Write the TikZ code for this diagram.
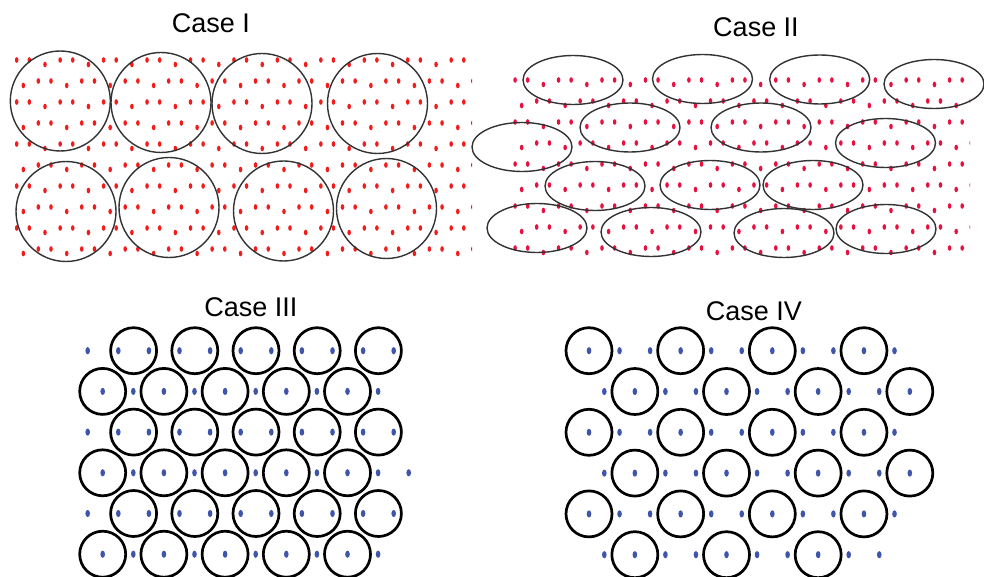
\documentclass[tikz,border=0pt]{standalone}
\usepackage{fontspec}
\setmainfont{Liberation Sans}
\usetikzlibrary{positioning}
\definecolor{Dot_Red}{HTML}{F21C1C}
\definecolor{Dot_Crimson}{HTML}{E8103F}
\definecolor{Dot_Blue}{HTML}{3F55AA}
\definecolor{Rim_Gray}{HTML}{333333}

\tikzset{
  casetitle/.style={font=\fontsize{27}{30}\selectfont, anchor=base},
  rim/.style={Rim_Gray, line width=1.4pt},
  ring/.style={black, line width=2.7pt},
}

\begin{document}
\begin{tikzpicture}[x=1pt, y=-1pt]
    \useasboundingbox (0,0) rectangle (984,577);

    % === Case I: red lattice, eight big circles ===
    \node[casetitle] (titleI) at (211,33) {Case I};
    \begin{scope}
        \clip (8,50) rectangle (472,262);
        \foreach \k in {0,...,4} {
            \foreach \m in {0,...,11} {
                \fill[Dot_Red] ({16.7+43.45*\m},{60+42*\k}) ellipse (1.8 and 2.8);
                \fill[Dot_Red] ({29.3+43.45*\m},{60+42*\k}) ellipse (1.8 and 2.8);
                \fill[Dot_Red] ({45+43.45*\m},{64.5+42*\k}) ellipse (1.8 and 2.8);
                \fill[Dot_Red] ({23.3+43.45*\m},{85.5+42*\k}) ellipse (1.8 and 2.8);
                \fill[Dot_Red] ({38.3+43.45*\m},{81+42*\k}) ellipse (1.8 and 2.8);
                \fill[Dot_Red] ({51+43.45*\m},{81+42*\k}) ellipse (1.8 and 2.8);
            }
        }
    \end{scope}
    \foreach \cx/\cy in {60.3/101, 161/102.5, 262/103.5, 377.5/103.5,
                         66/211.5, 169/207.5, 283.5/211, 386.5/208.5}
        \draw[rim] (\cx,\cy) circle (50);

    % === Case II: same lattice, fifteen ellipses ===
    \node[casetitle] (titleII) at (756,36.7) {Case II};
    \begin{scope}
        \clip (508,50) rectangle (970,256);
        \begin{scope}[shift={(498.4,20)}]
            \foreach \k in {0,...,4} {
                \foreach \m in {0,...,11} {
                    \fill[Dot_Crimson] ({16.7+43.45*\m},{60+42*\k}) ellipse (1.8 and 2.8);
                    \fill[Dot_Crimson] ({29.3+43.45*\m},{60+42*\k}) ellipse (1.8 and 2.8);
                    \fill[Dot_Crimson] ({45+43.45*\m},{64.5+42*\k}) ellipse (1.8 and 2.8);
                    \fill[Dot_Crimson] ({23.3+43.45*\m},{85.5+42*\k}) ellipse (1.8 and 2.8);
                    \fill[Dot_Crimson] ({38.3+43.45*\m},{81+42*\k}) ellipse (1.8 and 2.8);
                    \fill[Dot_Crimson] ({51+43.45*\m},{81+42*\k}) ellipse (1.8 and 2.8);
                }
            }
        \end{scope}
    \end{scope}
    \foreach \cx/\cy in {573/80, 702.5/79, 819.7/79.5, 934/84,
                         522/147, 630/127.5, 761/127.5, 885.5/143,
                         595/186, 710/185, 813/185,
                         537/228, 651/232, 784/233, 886/229}
        \draw[rim] (\cx,\cy) ellipse (50 and 24.5);

    % === Case III: blue lattice, circles over pairs and single dots ===
    \node[casetitle] (titleIII) at (251,316.7) {Case III};
    \foreach \k in {0,2,4} {
        \foreach \j in {0,...,10}
            \fill[Dot_Blue] ({87.7+30.6*\j},{350.7+40.7*\k}) ellipse (2.3 and 3.6);
        \foreach \m in {0,...,4}
            \draw[ring] ({133.6+61.2*\m},{350.7+40.7*\k}) circle (23);
    }
    \foreach \k/\last in {1/9, 3/10, 5/9} {
        \foreach \j in {0,...,\last}
            \fill[Dot_Blue] ({102.7+30.6*\j},{350.7+40.7*\k}) ellipse (2.3 and 3.6);
        \foreach \m in {0,...,4}
            \draw[ring] ({102.7+61.2*\m},{350.7+40.7*\k}) circle (23);
    }

    % === Case IV: blue lattice, circle on every third dot ===
    \node[casetitle] (titleIV) at (754,320) {Case IV};
    \foreach \k in {0,2,4} {
        \foreach \j in {0,...,10}
            \fill[Dot_Blue] ({589+30.55*\j},{350.7+40.8*\k}) ellipse (2.3 and 3.6);
        \foreach \j in {0,3,6,9}
            \draw[ring] ({589+30.55*\j},{350.7+40.8*\k}) circle (23);
    }
    \foreach \k/\last/\rings in {1/10/{1,4,7,10}, 3/10/{1,4,7,10}, 5/9/{1,4,7}} {
        \foreach \j in {0,...,\last}
            \fill[Dot_Blue] ({604.3+30.55*\j},{350.7+40.8*\k}) ellipse (2.3 and 3.6);
        \foreach \j in \rings
            \draw[ring] ({604.3+30.55*\j},{350.7+40.8*\k}) circle (23);
    }

\end{tikzpicture}
\end{document}
